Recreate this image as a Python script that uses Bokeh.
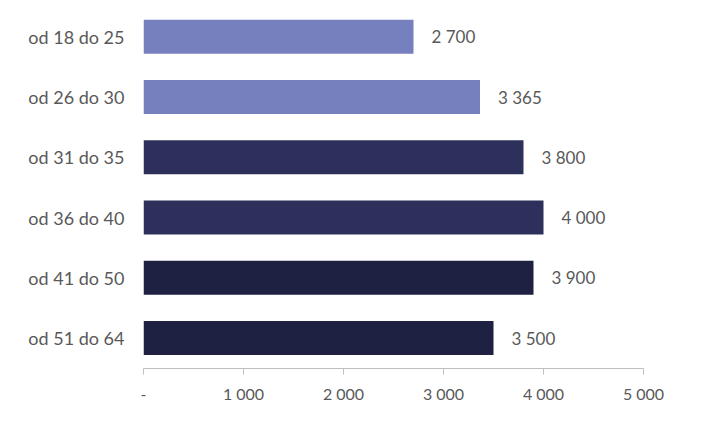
from bokeh.plotting import figure
from bokeh.models import Range1d, FixedTicker, ColumnDataSource
from bokeh.core.properties import value
from bokeh.embed import file_html
from bokeh.resources import INLINE

categories = ["od 18 do 25", "od 26 do 30", "od 31 do 35", "od 36 do 40", "od 41 do 50", "od 51 do 64"]
values = [2700, 3365, 3800, 4000, 3900, 3500]
value_labels = ["2 700", "3 365", "3 800", "4 000", "3 900", "3 500"]
bar_colors = ["#7780BE", "#7780BE", "#2D305A", "#2D305A", "#1F2142", "#1F2142"]
x_ticks = [0, 1000, 2000, 3000, 4000, 5000]
x_tick_labels = ["-", "1 000", "2 000", "3 000", "4 000", "5 000"]

FONT = "Lato"
TEXT_COLOR = "#595959"

pos = list(range(len(categories)))
src = ColumnDataSource(dict(y=pos, v=values, lab=value_labels, c=bar_colors))

p = figure(width=686, height=421, output_backend="svg", toolbar_location=None,
           x_range=Range1d(0, 5000), y_range=Range1d(5.506, -0.502),
           min_border_left=143, min_border_right=43, min_border_top=6, min_border_bottom=53)
p.outline_line_color = None
p.grid.grid_line_color = None
p.background_fill_color = "white"
p.border_fill_color = "white"

p.hbar(y="y", right="v", left=0, height=0.564, color="c", line_color=None, source=src)
p.text(x="v", y="y", text="lab", source=src, x_offset=18, text_align="left",
       text_baseline="middle", text_font=value(FONT), text_font_size="17px", text_color=TEXT_COLOR)

xa = p.xaxis[0]
xa.ticker = FixedTicker(ticks=x_ticks)
xa.major_label_overrides = {t: l for t, l in zip(x_ticks, x_tick_labels)}
xa.axis_line_color = "#BFBFBF"
xa.major_tick_line_color = "#BFBFBF"
xa.major_tick_in = 0
xa.major_tick_out = 6
xa.minor_tick_line_color = None
xa.major_label_standoff = 9
xa.major_label_text_font = FONT
xa.major_label_text_font_size = "16px"
xa.major_label_text_color = TEXT_COLOR

ya = p.yaxis[0]
ya.ticker = FixedTicker(ticks=pos)
ya.major_label_overrides = {i: c for i, c in zip(pos, categories)}
ya.axis_line_color = None
ya.major_tick_line_color = None
ya.minor_tick_line_color = None
ya.major_tick_in = 0
ya.major_tick_out = 0
ya.major_label_standoff = 19
ya.major_label_text_font = FONT
ya.major_label_text_font_size = "18px"
ya.major_label_text_color = TEXT_COLOR

open("out.html", "w").write(file_html(p, INLINE))
